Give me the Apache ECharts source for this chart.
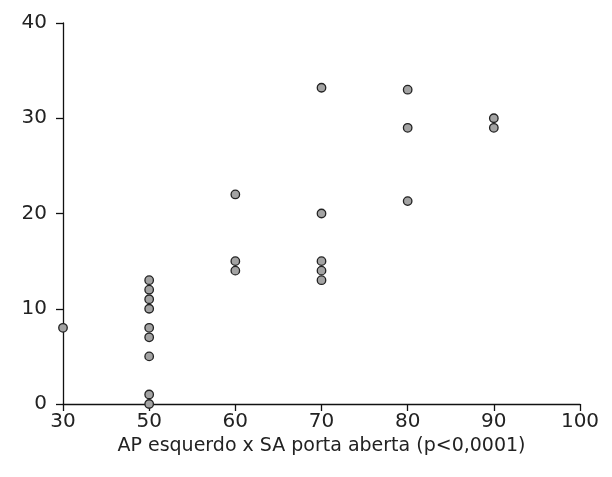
<!DOCTYPE html>
<html>
<head>
<meta charset="utf-8">
<script src="https://cdn.jsdelivr.net/npm/echarts@6/dist/echarts.min.js"></script>
<style>
  html, body { margin: 0; padding: 0; background: #fff; }
  #chart { width: 612px; height: 477px; }
</style>
</head>
<body>
<div id="chart"></div>
<script>
// eixo x com quebra: 30 vem logo antes de 50
var xCategories = ['30', '50', '60', '70', '80', '90', '100'];
var xValues = ['30', '50', '50', '50', '50', '50', '50', '50', '50', '50',
               '60', '60', '60',
               '70', '70', '70', '70', '70',
               '80', '80', '80',
               '90', '90'];
var yValues = [8, 13, 12, 11, 10, 8, 7, 5, 1, 0,
               22, 15, 14,
               33.2, 20, 15, 14, 13,
               33, 29, 21.3,
               30, 29];
var xName = 'AP esquerdo x SA porta aberta (p<0,0001)';

var points = xValues.map(function (x, i) { return [x, yValues[i]]; });

var font = 'DejaVu Sans';
var chart = echarts.init(document.getElementById('chart'));
chart.setOption({
    animation: false,
    grid: { left: 63, right: 32, top: 23, bottom: 73 },
    xAxis: {
        type: 'category',
        data: xCategories,
        boundaryGap: false,
        name: xName,
        nameLocation: 'middle',
        nameGap: 22,
        nameTextStyle: { color: '#222', fontSize: 19, fontFamily: font },
        axisLine: { lineStyle: { color: '#111', width: 1.3 } },
        axisTick: { length: 7, lineStyle: { color: '#111', width: 1.3 } },
        axisLabel: { color: '#222', fontSize: 20, fontFamily: font, margin: 8 },
        splitLine: { show: false }
    },
    yAxis: {
        type: 'value',
        min: 0,
        max: 40,
        interval: 10,
        axisLine: { show: true, lineStyle: { color: '#111', width: 1.3 } },
        axisTick: { show: true, length: 7, lineStyle: { color: '#111', width: 1.3 } },
        axisLabel: { color: '#222', fontSize: 20, fontFamily: font, margin: 16 },
        splitLine: { show: false }
    },
    series: [{
        type: 'scatter',
        data: points,
        symbol: 'circle',
        symbolSize: 8.5,
        itemStyle: { color: '#a3a3a3', borderColor: '#222', borderWidth: 1.3, opacity: 1 }
    }]
});
</script>
</body>
</html>
